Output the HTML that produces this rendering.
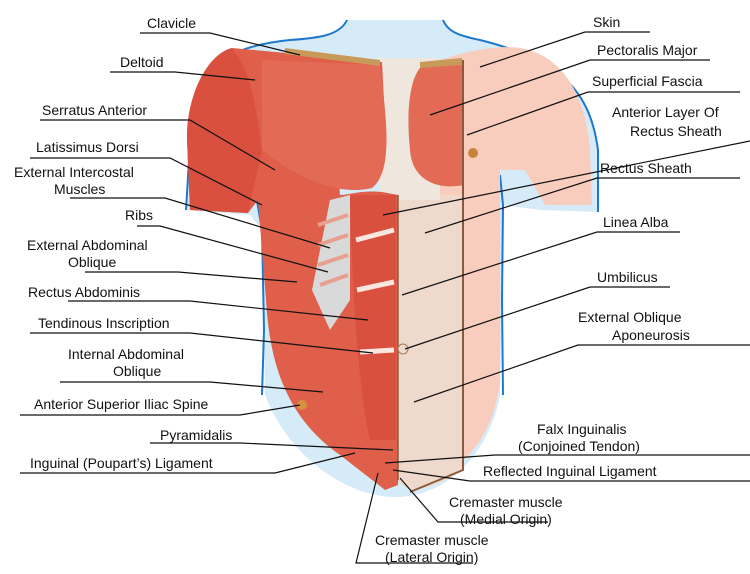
<!DOCTYPE html>
<html><head><meta charset="utf-8"><style>
html,body{margin:0;padding:0;background:#fff}
svg{display:block}
text{font-family:"Liberation Sans",sans-serif;font-size:14px;fill:#111}
.l{fill:none;stroke:#111;stroke-width:1.2}
</style></head><body>
<svg width="750" height="574" viewBox="0 0 750 574" xmlns="http://www.w3.org/2000/svg">
<!-- silhouette -->
<path d="M347,20 C340,35 320,38 290,40 C240,45 200,60 192,110 L186,210 L250,215 L262,230 L264,330 L265,395 C290,460 350,497 395,497 C450,497 490,450 500,395 L502,300 L503,205 L540,210 L598,212 L598,150 C590,90 560,60 480,40 C455,35 447,30 443,20 Z" fill="#d6ebf8"/>
<path d="M347,20 C340,35 320,38 290,40 C240,45 200,60 192,110 L186,210" fill="none" stroke="#1f78cc" stroke-width="2"/>
<path d="M443,20 C447,30 455,35 480,40 C560,60 590,90 598,150 L598,212" fill="none" stroke="#1f78cc" stroke-width="2"/>
<path d="M256,195 L262,230 L264,330 L262,395" fill="none" stroke="#1f78cc" stroke-width="2"/>
<path d="M500,175 L503,205 L502,300 L503,395" fill="none" stroke="#1f78cc" stroke-width="2"/>
<!-- right skin -->
<path d="M440,60 C470,50 500,45 520,48 C560,55 585,90 590,150 L592,205 L545,205 L525,170 L500,170 L500,380 C495,430 470,470 412,490 L405,480 L405,210 L440,200 Z" fill="#f8cdbd"/>
<!-- rectus sheath cream -->
<path d="M395,195 L462,195 L463,470 C440,485 420,490 410,490 L395,480 Z" fill="#efd9cd"/>
<!-- central fascia -->
<path d="M378,58 L440,58 L440,200 L395,200 L380,195 Z" fill="#efe7dd"/>
<!-- left red mass -->
<path d="M232,48 C205,55 186,100 187,140 L190,210 L248,213 L258,200 L266,300 C270,370 290,420 340,455 L385,490 L398,485 L398,195 L382,192 C360,190 350,195 340,195 C335,160 380,150 385,120 L382,62 Z" fill="#df5f4b"/>
<!-- deltoid darker -->
<path d="M232,48 C205,55 186,100 187,140 L190,210 L248,213 L262,150 C255,100 250,70 232,48 Z" fill="#d9503e"/>
<!-- left pec -->
<path d="M262,60 L380,65 C385,110 395,170 372,188 C340,196 300,180 262,150 Z" fill="#e36a55"/>
<!-- right pec -->
<path d="M420,68 L462,62 L463,185 C440,190 412,182 410,150 C406,110 410,80 420,68 Z" fill="#e36a55"/>
<!-- ribs area -->
<path d="M330,200 L350,195 L350,300 L330,330 L312,290 Z" fill="#d9d9d9"/>
<g stroke="#e7a08f" stroke-width="4"><line x1="318" y1="225" x2="348" y2="215"/><line x1="318" y1="245" x2="348" y2="235"/><line x1="318" y1="265" x2="348" y2="255"/><line x1="320" y1="285" x2="348" y2="275"/></g>
<!-- rectus abdominis -->
<path d="M350,195 L396,195 L396,440 L370,440 C360,400 352,300 350,195 Z" fill="#d9503e"/>
<g stroke="#fbe7df" stroke-width="5"><line x1="356" y1="240" x2="394" y2="230"/><line x1="357" y1="290" x2="394" y2="282"/><line x1="360" y1="352" x2="394" y2="350"/></g>
<!-- clavicle -->
<path d="M285,48 L380,60 L380,66 L285,54 Z" fill="#c79a5a"/>
<path d="M420,62 L462,58 L462,65 L420,68 Z" fill="#c79a5a"/>
<!-- fascia lines -->
<path d="M463,60 L463,470 L410,492" fill="none" stroke="#8a5a40" stroke-width="2"/>
<path d="M398,195 L398,480" fill="none" stroke="#8a5a40" stroke-width="1.5"/>
<circle cx="403" cy="349" r="5" fill="#efd9cd" stroke="#a57a60"/>
<circle cx="473" cy="153" r="5" fill="#c8843a"/>
<circle cx="302" cy="405" r="5" fill="#d79040"/>
<!-- leader lines left -->
<polyline class="l" points="140,33 210,33 300,55"/>
<polyline class="l" points="110,72 175,72 255,80"/>
<polyline class="l" points="40,120 190,120 275,170"/>
<polyline class="l" points="30,158 170,158 262,205"/>
<polyline class="l" points="70,198 165,198 330,248"/>
<polyline class="l" points="137,226 160,226 328,272"/>
<polyline class="l" points="85,272 178,272 297,282"/>
<polyline class="l" points="68,301 190,301 368,320"/>
<polyline class="l" points="30,333 190,333 373,353"/>
<polyline class="l" points="60,382 210,382 323,392"/>
<polyline class="l" points="20,415 240,415 300,405"/>
<polyline class="l" points="150,443 240,443 393,450"/>
<polyline class="l" points="20,473 275,473 355,453"/>
<!-- leader lines right -->
<polyline class="l" points="650,32 585,32 480,67"/>
<polyline class="l" points="710,60 590,60 430,115"/>
<polyline class="l" points="740,92 588,92 467,135"/>
<polyline class="l" points="750,141 383,215"/>
<polyline class="l" points="740,178 597,178 425,233"/>
<polyline class="l" points="680,232 597,232 402,295"/>
<polyline class="l" points="670,287 590,287 405,349"/>
<polyline class="l" points="750,345 578,345 414,402"/>
<polyline class="l" points="750,455 495,455 385,463"/>
<polyline class="l" points="750,481 470,481 393,470"/>
<polyline class="l" points="548,522 438,522 400,478"/>
<polyline class="l" points="473,563 356,563 378,473"/>
<!-- labels left -->
<text x="147" y="28">Clavicle</text>
<text x="120" y="67">Deltoid</text>
<text x="42" y="115">Serratus Anterior</text>
<text x="36" y="152">Latissimus Dorsi</text>
<text x="14" y="177">External Intercostal</text>
<text x="54" y="194">Muscles</text>
<text x="125" y="220">Ribs</text>
<text x="27" y="250">External Abdominal</text>
<text x="68" y="267">Oblique</text>
<text x="28" y="297">Rectus Abdominis</text>
<text x="38" y="328">Tendinous Inscription</text>
<text x="68" y="359">Internal Abdominal</text>
<text x="113" y="376">Oblique</text>
<text x="34" y="409">Anterior Superior Iliac Spine</text>
<text x="160" y="440">Pyramidalis</text>
<text x="30" y="468">Inguinal (Poupart’s) Ligament</text>
<!-- labels right -->
<text x="593" y="27">Skin</text>
<text x="597" y="55">Pectoralis Major</text>
<text x="592" y="86">Superficial Fascia</text>
<text x="612" y="117">Anterior Layer Of</text>
<text x="630" y="136">Rectus Sheath</text>
<text x="600" y="173">Rectus Sheath</text>
<text x="603" y="227">Linea Alba</text>
<text x="597" y="282">Umbilicus</text>
<text x="578" y="322">External Oblique</text>
<text x="612" y="340">Aponeurosis</text>
<text x="537" y="434">Falx Inguinalis</text>
<text x="518" y="451">(Conjoined Tendon)</text>
<text x="483" y="476">Reflected Inguinal Ligament</text>
<text x="449" y="507">Cremaster muscle</text>
<text x="460" y="524">(Medial Origin)</text>
<text x="375" y="545">Cremaster muscle</text>
<text x="385" y="562">(Lateral Origin)</text>
</svg>
</body></html>
